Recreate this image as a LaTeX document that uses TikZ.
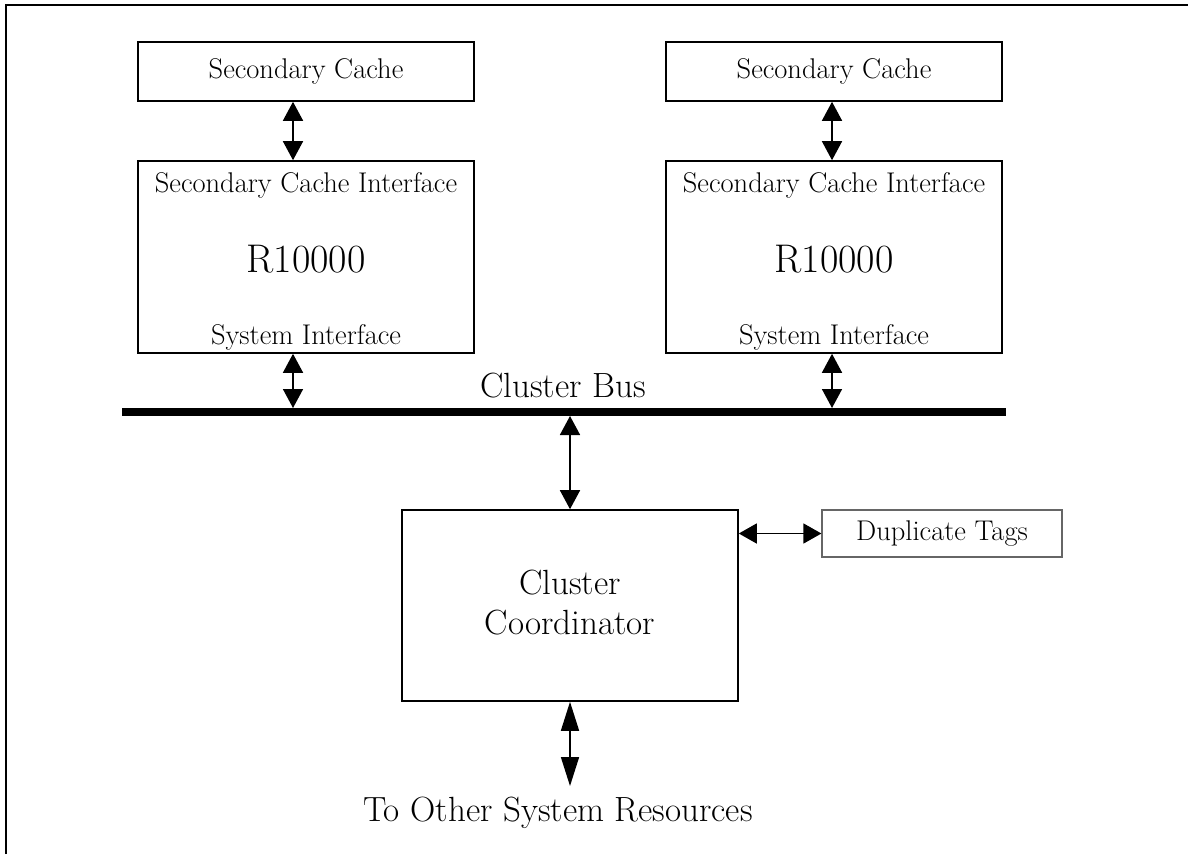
\documentclass[tikz,border=0pt]{standalone}
\usepackage{tikz}
\usetikzlibrary{positioning, arrows.meta, shapes}

\newcommand{\txtsize}{\fontsize{28.5}{34}\selectfont}
\newcommand{\bigsize}{\fontsize{35}{42}\selectfont}
\newcommand{\cpusize}{\fontsize{40}{48}\selectfont}

\begin{document}
\begin{tikzpicture}[x=1pt, y=-1pt,
    box/.style={draw, line width=1.6pt, minimum width=336pt, inner sep=0pt},
    lbl/.style={font=\txtsize, inner sep=0pt},
    big/.style={font=\bigsize, inner sep=0pt, align=center},
    dbl/.style={line width=1.6pt, {Triangle[width=20pt,length=19pt]}-{Triangle[width=20pt,length=19pt]}},
    dbllong/.style={line width=1.6pt, {Triangle[width=18pt,length=29pt]}-{Triangle[width=18pt,length=29pt]}},
    dblshort/.style={line width=1.4pt, {Triangle[width=20pt,length=18pt]}-{Triangle[width=20pt,length=18pt]}}]
    \useasboundingbox (0,0) rectangle (1188,854);
    % frame along top and left
    \draw[line width=1.6pt] (6,854) -- (6,5) -- (1188,5);

    % left processor
    \node[box, minimum height=59pt] (cacheL) at (306,71.5) {};
    \node[lbl] (cacheLt) at (cacheL) {Secondary Cache};
    \node[box, minimum height=192pt] (cpuL) at (306,257) {};
    \node[lbl] (sciL) at (306,185) {Secondary Cache Interface};
    \node[font=\cpusize, inner sep=0pt] (rL) at (306,259) {R10000};
    \node[lbl] (siL) at (306,337) {System Interface};

    % right processor
    \node[box, minimum height=59pt] (cacheR) at (834,71.5) {};
    \node[lbl] (cacheRt) at (cacheR) {Secondary Cache};
    \node[box, minimum height=192pt] (cpuR) at (834,257) {};
    \node[lbl] (sciR) at (834,185) {Secondary Cache Interface};
    \node[font=\cpusize, inner sep=0pt] (rR) at (834,259) {R10000};
    \node[lbl] (siR) at (834,337) {System Interface};

    % cluster bus
    \coordinate (busL) at (122,412);
    \coordinate (busR) at (1006,412);
    \draw[line width=8pt] (busL) -- (busR);
    \node[big] (busT) at (563,386) {Cluster Bus};
    \coordinate (tapL) at (293,408);
    \coordinate (tapR) at (832,408);
    \coordinate (tapC) at (570,416);

    % coordinator and tags
    \node[box, minimum height=191pt] (coord) at (570,605.5) {};
    \node[big] (coordT) at (570,603) {Cluster\\[-2pt]Coordinator};
    \node[draw=black!60, line width=1.2pt, minimum width=240pt, minimum height=47pt,
          font=\txtsize] (tags) at (942,533.5) {Duplicate Tags};
    \coordinate (out) at (570,786);
    \node[big] (outT) at (558,813) {To Other System Resources};

    % connectors
    \draw[dbl] (cacheL.south -| tapL) -- (cpuL.north -| tapL);
    \draw[dbl] (cacheR.south -| tapR) -- (cpuR.north -| tapR);
    \draw[dbl] (cpuL.south -| tapL) -- (tapL);
    \draw[dbl] (cpuR.south -| tapR) -- (tapR);
    \draw[dbl] (tapC) -- (coord.north);
    \draw[dblshort] (coord.east |- tags.west) -- (tags.west);
    \draw[dbllong] (coord.south) -- (out);
\end{tikzpicture}
\end{document}
